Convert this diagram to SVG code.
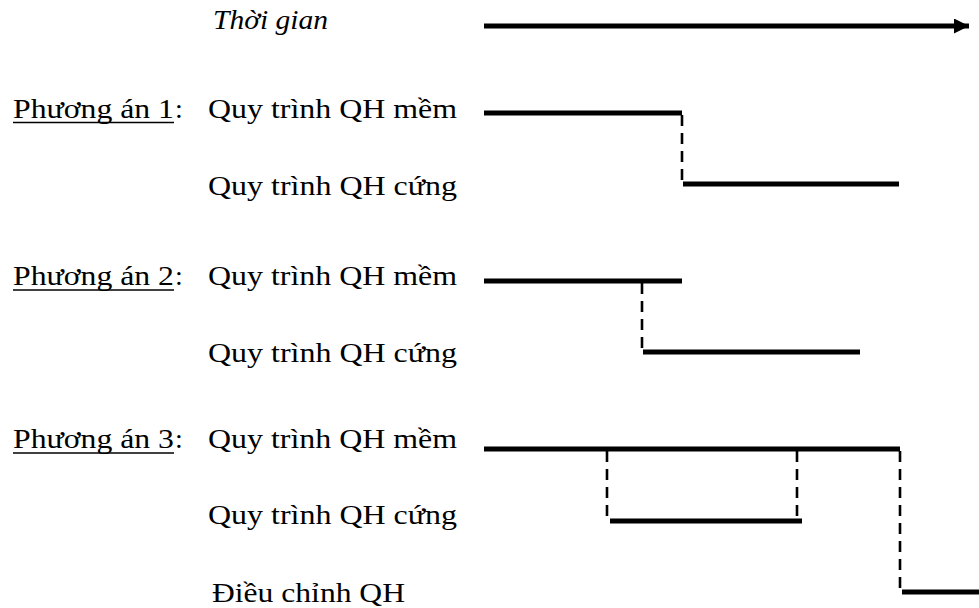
<svg xmlns="http://www.w3.org/2000/svg" width="979" height="608" viewBox="0 0 979 608">
<style>
text{font-family:"Liberation Serif","Times New Roman",serif;font-size:28px;fill:#000}
.it{font-style:italic}
.solid{stroke:#000;stroke-width:5;fill:none}
.dash{stroke:#000;stroke-width:2.6;stroke-dasharray:11 7;fill:none}
.ul{stroke:#000;stroke-width:1.5}
</style>
<defs>
<marker id="ah" viewBox="0 0 10 10" refX="10" refY="5" markerWidth="3.4" markerHeight="3" orient="auto" markerUnits="strokeWidth">
<path d="M0,0 L10,5 L0,10 Z" fill="#000"/>
</marker>
</defs>
<rect width="979" height="608" fill="#fff"/>
<g id="labels">
<text class="it" x="213" y="29" textLength="115" lengthAdjust="spacingAndGlyphs">Thời gian</text>
<g id="pa1-label">
<text x="13" y="118" textLength="161" lengthAdjust="spacingAndGlyphs">Phương án 1</text><text x="175" y="118">:</text>
<line class="ul" x1="13" y1="122.5" x2="174" y2="122.5"/>
</g>
<text x="208" y="118" textLength="249" lengthAdjust="spacingAndGlyphs">Quy trình QH mềm</text>
<text x="208" y="195" textLength="249" lengthAdjust="spacingAndGlyphs">Quy trình QH cứng</text>
<g id="pa2-label">
<text x="13" y="285" textLength="161" lengthAdjust="spacingAndGlyphs">Phương án 2</text><text x="175" y="285">:</text>
<line class="ul" x1="13" y1="290" x2="174" y2="290"/>
</g>
<text x="208" y="285" textLength="249" lengthAdjust="spacingAndGlyphs">Quy trình QH mềm</text>
<text x="208" y="362" textLength="249" lengthAdjust="spacingAndGlyphs">Quy trình QH cứng</text>
<g id="pa3-label">
<text x="13" y="448" textLength="161" lengthAdjust="spacingAndGlyphs">Phương án 3</text><text x="175" y="448">:</text>
<line class="ul" x1="13" y1="453" x2="174" y2="453"/>
</g>
<text x="208" y="448" textLength="249" lengthAdjust="spacingAndGlyphs">Quy trình QH mềm</text>
<text x="208" y="524" textLength="249" lengthAdjust="spacingAndGlyphs">Quy trình QH cứng</text>
<text x="212" y="602" textLength="193" lengthAdjust="spacingAndGlyphs">Điều chỉnh QH</text>
</g>
<g id="timeline">
<line class="solid" x1="484" y1="26" x2="969" y2="26" marker-end="url(#ah)"/>
</g>
<g id="bars">
<line class="solid" x1="484" y1="113" x2="682" y2="113"/>
<line class="solid" x1="683" y1="184" x2="899" y2="184"/>
<line class="solid" x1="484" y1="281" x2="682" y2="281"/>
<line class="solid" x1="643" y1="352" x2="860" y2="352"/>
<line class="solid" x1="484" y1="449" x2="900" y2="449"/>
<line class="solid" x1="610" y1="521" x2="802" y2="521"/>
<line class="solid" x1="902" y1="592" x2="979" y2="592"/>
</g>
<g id="connectors">
<line class="dash" x1="682" y1="115" x2="682" y2="183"/>
<line class="dash" x1="642" y1="283" x2="642" y2="351"/>
<line class="dash" x1="607" y1="451" x2="607" y2="520"/>
<line class="dash" x1="797" y1="451" x2="797" y2="520"/>
<line class="dash" x1="900" y1="451" x2="900" y2="591"/>
</g>
</svg>
